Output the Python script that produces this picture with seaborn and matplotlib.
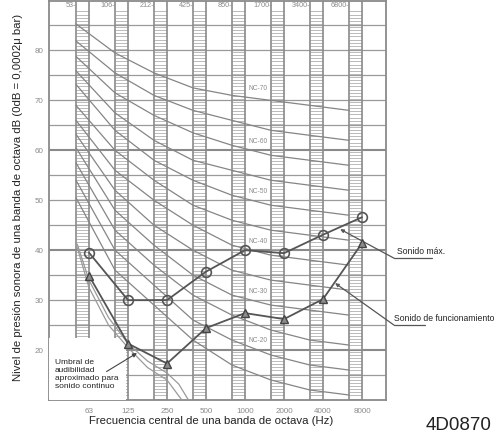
import numpy as np
import pandas as pd
import matplotlib
matplotlib.use("Agg")
import matplotlib.pyplot as plt
from matplotlib.patches import Rectangle
from matplotlib.lines import Line2D
import seaborn as sns

# Octave band centre frequencies (Hz) and the older band centres used for the NC curves
band_labels = ["63", "125", "250", "500", "1000", "2000", "4000", "8000"]
old_band_labels = ["53", "106", "212", "425", "850", "1700", "3400", "6800"]

# Measured sound pressure levels (dB) per octave band
max_sound = [39.5, 30.0, 30.0, 35.7, 40.0, 39.4, 43.1, 46.6]
operating_sound = [34.9, 21.3, 17.3, 24.4, 27.4, 26.2, 30.2, 41.4]

# Noise criterion curves (dB at 53, 106, 212, 425, 850, 1700, 3400, 6800 Hz)
nc_levels = [70, 65, 60, 55, 50, 45, 40, 35, 30, 25, 20, 15]
nc_values = [
    [85.3, 79.5, 75.5, 72.5, 71.0, 70.0, 69.0, 68.0],
    [81.9, 75.5, 71.0, 68.0, 66.0, 64.0, 63.0, 62.0],
    [78.8, 71.5, 67.0, 63.5, 61.0, 59.0, 58.0, 57.0],
    [75.9, 67.5, 62.0, 58.0, 56.0, 54.0, 53.0, 52.0],
    [73.2, 64.0, 58.0, 54.0, 51.0, 49.0, 48.0, 47.0],
    [69.0, 60.0, 54.0, 49.0, 46.0, 44.0, 43.0, 42.0],
    [66.0, 56.0, 50.0, 45.0, 41.0, 39.0, 38.0, 37.0],
    [63.2, 52.0, 45.0, 40.0, 36.0, 34.0, 33.0, 32.0],
    [60.5, 48.0, 41.0, 35.0, 31.0, 29.0, 28.0, 27.0],
    [57.5, 44.0, 37.0, 31.0, 27.0, 24.0, 22.0, 21.0],
    [54.0, 40.0, 33.0, 26.0, 22.0, 19.0, 17.0, 16.0],
    [50.5, 36.0, 29.0, 22.0, 17.0, 14.0, 12.0, 11.0],
]
nc_labelled = [70, 60, 50, 40, 30, 20]

# Approximate threshold of hearing for continuous sound (two traces)
threshold_pos = [-0.30, 0.0, 0.5, 1.0, 1.5, 2.0, 2.3, 2.55]
threshold_upper = [41.2, 34.0, 26.5, 21.3, 17.8, 15.4, 13.2, 10.0]
threshold_pos_b = [-0.30, 0.0, 0.5, 1.0, 1.5, 2.0, 2.38]
threshold_lower = [40.5, 32.5, 25.0, 20.5, 16.5, 14.0, 10.0]

OLD_SHIFT = -1.0 / 3.0
band_pos = np.arange(len(band_labels), dtype=float)
old_pos = band_pos + OLD_SHIFT

sns.set_style("white")
plt.rcParams["font.family"] = ["Liberation Sans", "DejaVu Sans"]

W, H = 494, 437
fig = plt.figure(figsize=(W / 100, H / 100), dpi=100)
ax = fig.add_axes([49 / W, 37 / H, 337 / W, 399.5 / H])
ax.set_xlim(-1.026, 7.615)
ax.set_ylim(10, 90)

grid_c = "#9a9a9a"
# horizontal grid every 5 dB
for lvl in range(15, 90, 5):
    major = lvl in (20, 40, 60)
    ax.axhline(lvl, color="#8a8a8a" if major else grid_c,
               lw=1.5 if major else 0.9, zorder=1)

# hatched band columns between the old and new band centres
hatch_levels = np.arange(10.3, 88.0, 0.625)
for xl, xr in zip(old_pos, band_pos):
    ax.hlines(hatch_levels, xl, xr, color="#b0b0b0", lw=0.6, zorder=1.2)
    ax.axvline(xl, color="#8a8a8a", lw=1.2, zorder=1.4)
    ax.axvline(xr, color="#8a8a8a", lw=1.2, zorder=1.4)

for lbl, xl in zip(old_band_labels, old_pos):
    ax.text(xl + 0.01, 88.9, f"{lbl}-", ha="right", va="center",
            fontsize=5.2, color="#8a8a8a", zorder=3)

# NC curves
nc_rows = []
for lvl, vals in zip(nc_levels, nc_values):
    for p, v in zip(old_pos, vals):
        nc_rows.append({"pos": p, "dB": v, "nc": lvl})
nc_df = pd.DataFrame(nc_rows)
sns.lineplot(data=nc_df, x="pos", y="dB", units="nc", estimator=None,
             color="#858585", lw=0.9, ax=ax, legend=False, zorder=2.5)

label_x = 4.33
for lvl, vals in zip(nc_levels, nc_values):
    if lvl in nc_labelled:
        yv = np.interp(label_x, old_pos, vals) + 2.0
        ax.text(label_x, yv, f"NC-{lvl}", fontsize=4.8, color="#8a8a8a",
                ha="center", va="center", zorder=2.6,
                bbox=dict(fc="white", ec="none", pad=0.4))

# blank panel for the threshold note
ax.add_patch(Rectangle((-1.03, 10), 1.98, 12.4, fc="white", ec="none", zorder=3))

# threshold of hearing
thr_df = pd.DataFrame({
    "pos": threshold_pos + threshold_pos_b,
    "dB": threshold_upper + threshold_lower,
    "trace": ["a"] * len(threshold_pos) + ["b"] * len(threshold_pos_b),
})
sns.lineplot(data=thr_df, x="pos", y="dB", units="trace", estimator=None,
             sort=False, color="#9a9a9a", lw=0.9, ax=ax, legend=False, zorder=3.5)

# measured spectra
max_df = pd.DataFrame({"pos": band_pos, "dB": max_sound})
op_df = pd.DataFrame({"pos": band_pos, "dB": operating_sound})
sns.lineplot(data=max_df, x="pos", y="dB", ax=ax, color="#555555", lw=1.3,
             marker="o", markersize=7, markerfacecolor="none",
             markeredgecolor="#555555", markeredgewidth=1.2, zorder=5)
sns.lineplot(data=op_df, x="pos", y="dB", ax=ax, color="#555555", lw=1.3,
             marker="^", markersize=5.5, markerfacecolor="#8c8c8c",
             markeredgecolor="#444444", markeredgewidth=1.0, zorder=5)

# threshold note
ax.text(-0.87, 18.2, "Umbral de\naudibilidad\naproximado para\nsonido continuo",
        fontsize=6, va="top", ha="left", linespacing=1.2, color="#222222", zorder=6)
ax.annotate("", xy=(1.23, 19.4), xytext=(0.45, 15.7),
            arrowprops=dict(arrowstyle="-|>", color="#444444", lw=0.8,
                            mutation_scale=6, shrinkA=0, shrinkB=0), zorder=6)

# series call-outs
def callout(tip, elbow, end, text_xy, text):
    ax.annotate("", xy=tip, xytext=elbow, annotation_clip=False,
                arrowprops=dict(arrowstyle="-|>", color="#555555", lw=0.9,
                                mutation_scale=5, shrinkA=0, shrinkB=0))
    ax.add_line(Line2D([elbow[0], end[0]], [elbow[1], end[1]],
                       color="#555555", lw=0.9, clip_on=False))
    ax.text(text_xy[0], text_xy[1], text, fontsize=6.2, ha="left",
            va="center", color="#222222", clip_on=False)

callout((6.44, 44.2), (7.82, 38.4), (8.79, 38.4), (7.90, 39.7), "Sonido máx.")
callout((6.31, 33.4), (7.82, 25.0), (8.62, 25.0), (7.82, 26.3),
        "Sonido de funcionamiento")

# axes cosmetics
ax.set_xticks(band_pos)
ax.set_xticklabels(band_labels)
ax.set_yticks(range(20, 90, 10))
ax.set_yticklabels([str(v) for v in range(20, 90, 10)])
ax.tick_params(axis="both", length=0, labelsize=5.8, labelcolor="#8a8a8a")
ax.tick_params(axis="x", pad=6)
ax.tick_params(axis="y", pad=4)
ax.set_xlabel("")
ax.set_ylabel("")
for s in ax.spines.values():
    s.set_color("#8a8a8a")
    s.set_linewidth(1.3)
    s.set_visible(True)

fig.text(18 / W, 1 - 197 / H,
         "Nivel de presión sonora de una banda de octava dB (0dB = 0,0002μ bar)",
         rotation=90, ha="center", va="center", fontsize=8.2, color="#222222")
fig.text(211 / W, 1 - 421 / H, "Frecuencia central de una banda de octava (Hz)",
         ha="center", va="center", fontsize=8.2, color="#222222")
fig.text(491 / W, 1 - 425 / H, "4D0870", ha="right", va="center",
         fontsize=13.5, color="#222222")

fig.savefig("out.png", dpi=100)
